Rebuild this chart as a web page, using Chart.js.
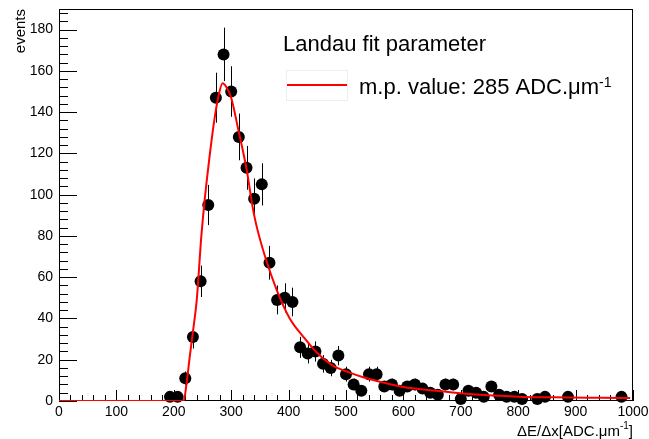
<!DOCTYPE html>
<html><head><meta charset="utf-8">
<style>html,body{margin:0;padding:0;background:#fff;}canvas{display:block;}</style>
<script src="https://cdn.jsdelivr.net/npm/chart.js@4.4.1/dist/chart.umd.min.js"></script>
</head><body>
<canvas id="c" width="649" height="439"></canvas>
<script>
// histogram bins (bin centers, counts)
const binCenters = [193.3, 206.7, 220, 233.3, 246.7, 260, 273.3, 286.7, 300, 313.3, 326.7, 340, 353.3, 366.7, 380, 393.3, 406.7,
  420, 433.3, 446.7, 460, 473.3, 486.7, 500, 513.3, 526.7, 540, 553.3, 566.7, 580, 593.3, 606.7, 620, 633.3, 646.7, 660,
  673.3, 686.7, 700, 713.3, 726.7, 740, 753.3, 766.7, 780, 793.3, 806.7, 833.3, 846.7, 886.7, 980];
const counts = [2, 2, 11, 31, 58, 95, 147, 168, 150, 128, 113, 98, 105, 67, 49, 50, 48,
  26, 23, 24, 18, 16, 22, 13, 8, 5, 13, 13, 7, 8, 5, 7, 8, 6, 4, 3,
  8, 8, 1, 5, 4, 2, 7, 3, 2, 2, 1, 1, 2, 2, 2];
// Landau fit curve
const fitX = [0, 210, 217, 222, 228, 234, 240, 248, 254, 260, 270, 278, 285, 292, 300, 312, 327, 338, 344, 359, 379, 402, 426, 449, 478, 504, 530, 559, 600, 652, 710, 768, 800, 861, 920, 983, 995];
const fitY = [0, 0, 0, 8, 22, 35, 49, 80, 98, 113, 135, 148, 154, 152, 147, 132, 112, 93, 85, 70, 54, 40, 31, 23.5, 17, 14, 11.5, 9.3, 6.8, 5.1, 3.5, 2.5, 2.1, 1.8, 1.6, 1.5, 1.4];
const xTickValues = [0, 100, 200, 300, 400, 500, 600, 700, 800, 900, 1000];
const yTickValues = [0, 20, 40, 60, 80, 100, 120, 140, 160, 180];
const legendHeader = 'Landau fit parameter';
const legendEntry = 'm.p. value: 285 ADC.\u03bcm';
const xTitle = '\u0394E/\u0394x[ADC.\u03bcm';
const yTitle = 'events';

const FONT = "'Liberation Sans', Arial, Helvetica, sans-serif";

const rootPlugin = {
  id: 'rootStyle',
  beforeDatasetsDraw(chart) {
    const {ctx, chartArea: a, scales: {x, y}} = chart;
    ctx.save();
    ctx.strokeStyle = '#000';
    ctx.lineWidth = 1;
    // frame
    ctx.strokeRect(a.left + 0.5, a.top + 0.5, a.right - a.left - 1, a.bottom - a.top - 1);
    // ticks
    ctx.beginPath();
    for (let v = 0; v <= 1000; v += 20) {
      const px = Math.round(x.getPixelForValue(v)) + 0.5;
      const len = v % 100 === 0 ? 11 : 6;
      ctx.moveTo(px, a.bottom);
      ctx.lineTo(px, a.bottom - len);
    }
    for (let v = 0; v <= 188; v += 4) {
      const py = Math.round(y.getPixelForValue(v)) + 0.5;
      const len = v % 20 === 0 ? 18 : 9;
      ctx.moveTo(a.left, py);
      ctx.lineTo(a.left + len, py);
    }
    ctx.stroke();
    // error bars
    ctx.beginPath();
    binCenters.forEach((c, i) => {
      const e = Math.sqrt(counts[i]);
      const px = Math.round(x.getPixelForValue(c)) + 0.5;
      ctx.moveTo(px, y.getPixelForValue(counts[i] + e));
      ctx.lineTo(px, y.getPixelForValue(Math.max(0, counts[i] - e)));
    });
    ctx.stroke();
    ctx.restore();
  },
  afterDraw(chart) {
    const {ctx, chartArea: a} = chart;
    ctx.save();
    ctx.fillStyle = '#000';
    // x title (right aligned)
    ctx.textBaseline = 'alphabetic';
    const supFont = '10px ' + FONT;
    ctx.font = supFont;
    const wSup = ctx.measureText('-1').width;
    ctx.font = '15px ' + FONT;
    const wBr = ctx.measureText(']').width;
    const wMain = ctx.measureText(xTitle).width;
    const xr = a.right;
    const bx = 436;
    ctx.textAlign = 'left';
    ctx.fillText(']', xr - wBr, bx);
    ctx.font = supFont;
    ctx.fillText('-1', xr - wBr - wSup, bx - 7);
    ctx.font = '15px ' + FONT;
    ctx.fillText(xTitle, xr - wBr - wSup - wMain, bx);

    // y title
    ctx.save();
    ctx.translate(25, a.top);
    ctx.rotate(-Math.PI / 2);
    ctx.textAlign = 'right';
    ctx.font = '15px ' + FONT;
    ctx.fillText(yTitle, 0, 0);
    ctx.restore();

    // legend
    ctx.font = '22px ' + FONT;
    ctx.textAlign = 'left';
    ctx.fillText(legendHeader, 283, 51);
    ctx.strokeStyle = '#eeeeee';
    ctx.lineWidth = 1;
    ctx.strokeRect(286.5, 70.5, 61, 30);
    ctx.strokeStyle = '#ff0000';
    ctx.lineWidth = 2;
    ctx.beginPath();
    ctx.moveTo(287, 85);
    ctx.lineTo(347, 85);
    ctx.stroke();
    ctx.fillText(legendEntry, 359, 94);
    const wE = ctx.measureText(legendEntry).width;
    ctx.font = '14px ' + FONT;
    ctx.fillText('-1', 359 + wE, 87);
    ctx.restore();
  }
};

new Chart(document.getElementById('c'), {
  type: 'scatter',
  data: {
    datasets: [
      {
        label: 'fit',
        data: fitX.map((v, i) => ({x: v, y: fitY[i]})),
        showLine: true,
        borderColor: '#ff0000',
        borderWidth: 2,
        pointRadius: 0,
        cubicInterpolationMode: 'monotone',
        order: 0
      },
      {
        label: 'data',
        data: binCenters.map((v, i) => ({x: v, y: counts[i]})),
        pointRadius: 6,
        pointBackgroundColor: '#000',
        pointBorderColor: '#000',
        pointBorderWidth: 0,
        order: 1,
        clip: false
      }
    ]
  },
  options: {
    responsive: false,
    animation: false,
    devicePixelRatio: 1,
    layout: {padding: {top: 9, right: 16, left: 0, bottom: 0}},
    plugins: {legend: {display: false}, tooltip: {enabled: false}},
    scales: {
      x: {
        type: 'linear', min: 0, max: 1000,
        afterBuildTicks: s => { s.ticks = xTickValues.map(v => ({value: v})); },
        afterFit: s => { s.height = 38; s.paddingLeft = 0; s.paddingRight = 0; },
        grid: {display: false, drawTicks: false},
        border: {display: false},
        ticks: {font: {family: FONT, size: 14}, color: '#000', padding: 3, maxRotation: 0, autoSkip: false,
          callback: v => String(v)}
      },
      y: {
        type: 'linear', min: 0, max: 190,
        afterBuildTicks: s => { s.ticks = yTickValues.map(v => ({value: v})); },
        afterFit: s => { s.width = 59; s.paddingTop = 0; s.paddingBottom = 0; },
        grid: {display: false, drawTicks: false},
        border: {display: false},
        ticks: {font: {family: FONT, size: 14}, color: '#000', padding: 6, autoSkip: false,
          callback: v => String(v)}
      }
    }
  },
  plugins: [rootPlugin]
});
</script>
</body></html>
